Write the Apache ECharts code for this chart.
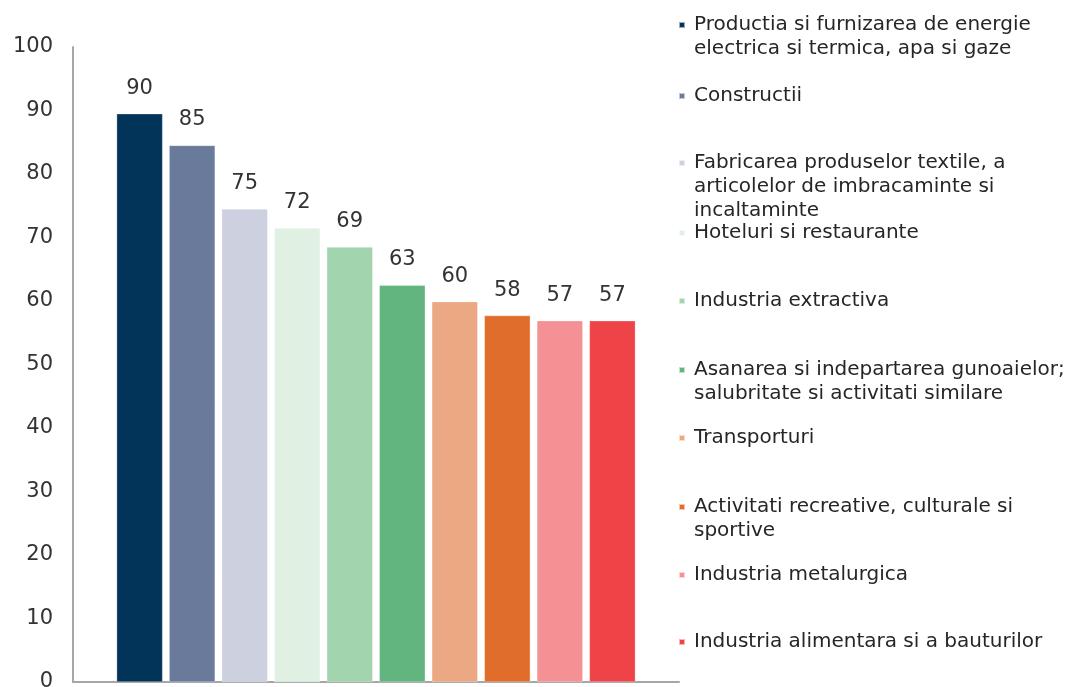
<!DOCTYPE html>
<html>
<head>
<meta charset="utf-8">
<script src="https://cdn.jsdelivr.net/npm/echarts@6/dist/echarts.min.js"></script>
<style>
html,body{margin:0;padding:0;background:#fff;}
#chart{width:1067px;height:687px;}
</style>
</head>
<body>
<div id="chart"></div>
<script>
// Data
const sectors = [
  'Productia si furnizarea de energie\nelectrica si termica, apa si gaze',
  'Constructii',
  'Fabricarea produselor textile, a\narticolelor de imbracaminte si\nincaltaminte',
  'Hoteluri si restaurante',
  'Industria extractiva',
  'Asanarea si indepartarea gunoaielor;\nsalubritate si activitati similare',
  'Transporturi',
  'Activitati recreative, culturale si\nsportive',
  'Industria metalurgica',
  'Industria alimentara si a bauturilor'
];
const values = [89.5, 84.5, 74.5, 71.5, 68.5, 62.5, 59.9, 57.7, 56.9, 56.9];
const colors = ['#02345A', '#6A7A9A', '#CDD1DF', '#E0F1E4', '#A2D4AE', '#62B57E', '#ECA882', '#E06D2C', '#F39194', '#EE4448'];
const yTicks = [0, 10, 20, 30, 40, 50, 60, 70, 80, 90, 100];
// first-line centres of legend entries (layout)
const legendCentres = [25, 96, 163, 233, 301, 370, 438, 507, 575, 642];

const FONT = 'DejaVu Sans';
const LH = 24;

const series = sectors.map((name, i) => ({
  name: name,
  type: 'bar',
  data: [values[i]],
  barGap: '14.3%',
  barCategoryGap: '14.4%',
  itemStyle: { color: colors[i], borderColor: 'rgba(255,255,255,0.6)', borderWidth: 0.5 },
  label: {
    show: true,
    position: 'top',
    distance: 15,
    formatter: p => String(Math.round(p.value)),
    fontFamily: FONT,
    fontSize: 21,
    color: '#333333'
  }
}));

const legends = sectors.map((name, i) => {
  const n = name.split('\n').length;
  return {
    data: [name],
    orient: 'vertical',
    left: 678,
    top: legendCentres[i] - (2 * n - 1) * LH / 2,
    padding: 0,
    icon: 'path://M0,0h6v6h-6z M10,3',
    itemWidth: 10,
    itemHeight: 6,
    itemGap: 0,
    selectedMode: false,
    formatter: nm => '\n'.repeat(n - 1) + nm,
    textStyle: {
      fontFamily: FONT,
      fontSize: 20,
      lineHeight: LH,
      color: '#262626'
    }
  };
});

const chart = echarts.init(document.getElementById('chart'), null, { renderer: 'canvas' });
chart.setOption({
  animation: false,
  grid: { left: 73, right: 388, top: 47, bottom: 5, containLabel: false, outerBoundsMode: 'none' },
  legend: legends,
  xAxis: {
    type: 'category',
    data: [''],
    axisLine: { show: true, lineStyle: { color: '#A6A6A6', width: 2 } },
    axisTick: { show: false },
    axisLabel: { show: false }
  },
  yAxis: {
    type: 'value',
    min: yTicks[0],
    max: yTicks[yTicks.length - 1],
    interval: yTicks[1] - yTicks[0],
    axisLine: { show: true, lineStyle: { color: '#A6A6A6', width: 2 } },
    axisTick: { show: false },
    splitLine: { show: false },
    axisLabel: {
      margin: 20,
      fontFamily: FONT,
      fontSize: 21,
      color: '#333333'
    }
  },
  series: series
});
</script>
</body>
</html>
